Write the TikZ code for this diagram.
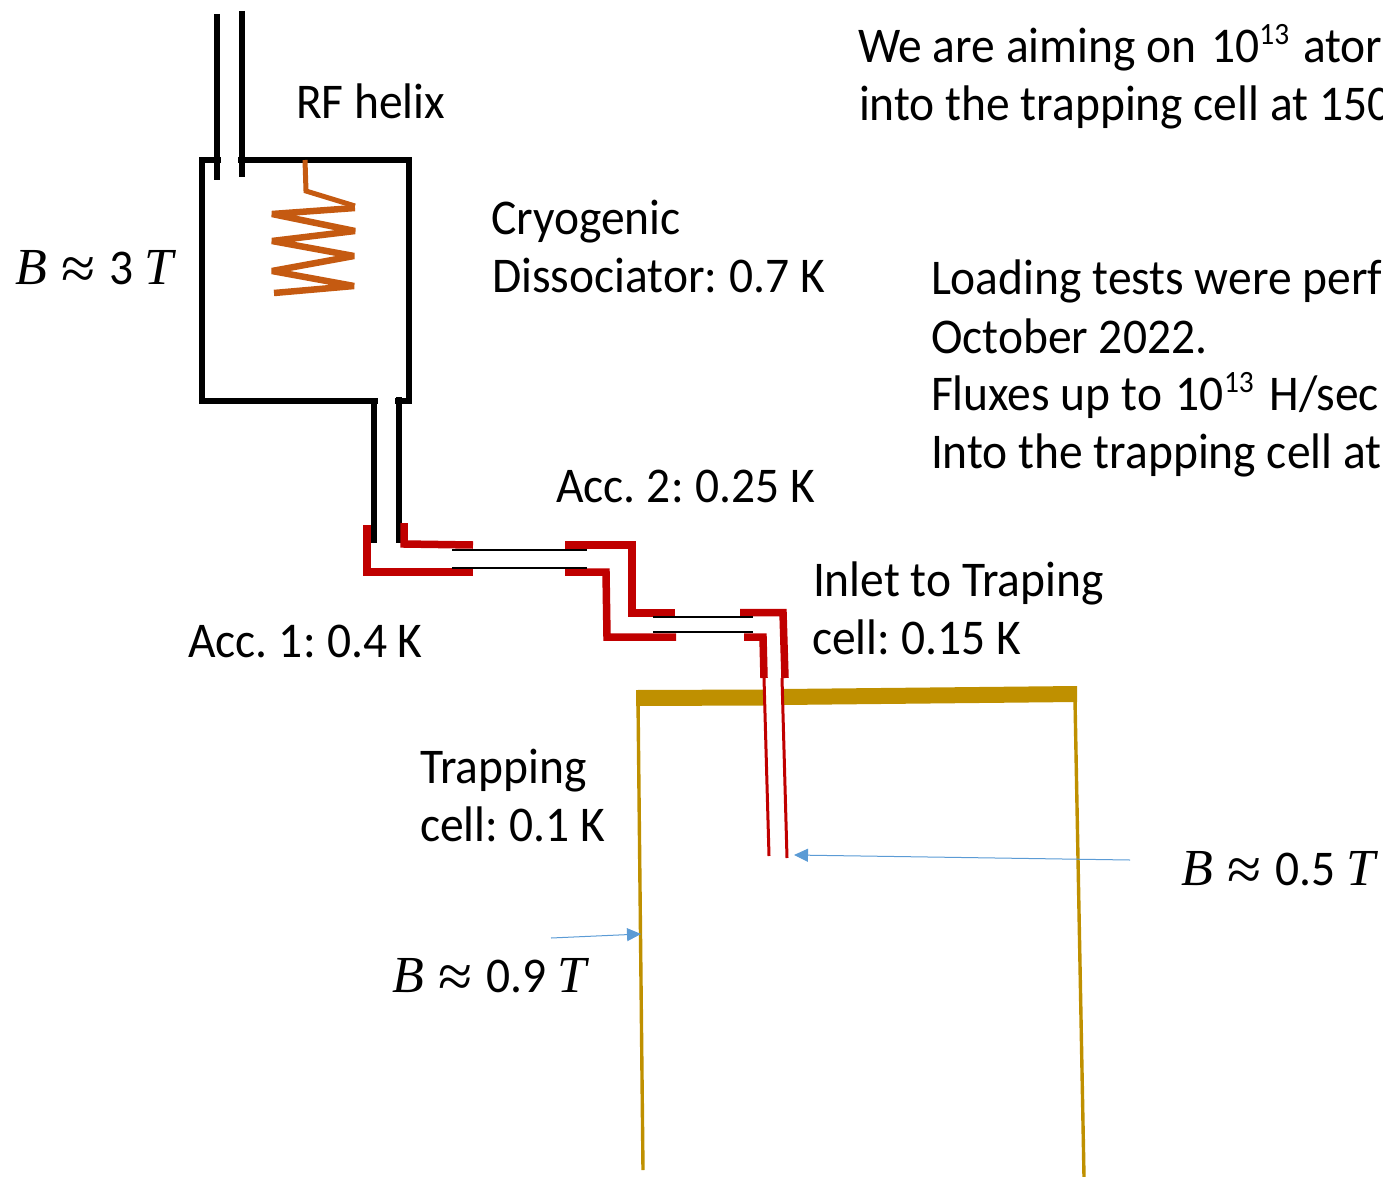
\documentclass[tikz,border=0pt]{standalone}
\usepackage{fontspec}
\setmainfont[FakeStretch=0.95]{Carlito}
\newfontfamily\mathser{Liberation Serif}
\usetikzlibrary{arrows.meta}
\definecolor{redc}{HTML}{C00000}
\definecolor{coil}{HTML}{C55A11}
\definecolor{gold}{HTML}{BF9000}
\definecolor{bluea}{HTML}{5B9BD5}
\tikzset{
 lbl/.style={anchor=base west,inner sep=0pt,outer sep=0pt,font=\fontsize{50}{50}\selectfont},
 blk/.style={draw=black,line width=6pt,line cap=butt},
 redt/.style={draw=redc,line width=7.5pt,line cap=butt,line join=miter},
 thinb/.style={draw=black,line width=1.6pt},
 redn/.style={draw=redc,line width=3pt},
 goldw/.style={draw=gold,line width=3.4pt},
 arr/.style={draw=bluea,line width=1pt,-{Triangle[length=14pt,width=13pt]}}
}
\newcommand{\mB}{{\mathser\fontsize{52}{52}\selectfont\itshape B}}
\newcommand{\mT}{{\mathser\fontsize{52}{52}\selectfont\itshape T}}
\newcommand{\mA}{\hspace{15pt}\raisebox{-5pt}{\mathser\fontsize{62}{62}\selectfont ≈}\hspace{14pt}}
\newcommand{\supt}{\raisebox{0.36em}{\fontsize{31}{31}\selectfont 13}}
\begin{document}
\begin{tikzpicture}[x=1pt,y=-1pt]
\useasboundingbox (0,0) rectangle (1383,1177);
\clip (0,0) rectangle (1383,1177);
% dissociator
\draw[blk] (221,160) -- (202,160) -- (202,401) -- (378,401);
\draw[blk] (238,160) -- (409,160) -- (409,401) -- (395,401);
\draw[blk] (217,14) -- (217,180);
\draw[blk] (241.7,11) -- (241.7,177);
\draw[blk] (374,401) -- (374,543);
\draw[blk] (398.5,397) -- (398.5,543);
% coil
\draw[draw=coil,line width=5pt] (305,160) -- (306,191) -- (355,206);
\draw[draw=coil,line width=6.5pt,line join=bevel] (355,208) -- (272,214) -- (355,231) -- (272,241) -- (354,256) -- (272,271) -- (354,286) -- (274,293);
% gold cell
\fill[gold] (636,690) -- (764,689.5) -- (764,705.5) -- (636,706) -- cycle;
\fill[gold] (782,689) -- (1077,686) -- (1077,702) -- (782,705) -- cycle;
\draw[goldw] (638,700) -- (643,1170);
\draw[goldw] (1075,700) -- (1084,1177);
% red tubes
\draw[redt] (367,525) -- (367,572) -- (473,572);
\draw[redt] (404,523) -- (404,544) -- (473,545);
\draw[redt] (565,545) -- (632,545) -- (632,613) -- (675,613);
\draw[redt] (565,572) -- (606,572) -- (607,637) -- (676,637);
\draw[redt] (740,612.5) -- (783,612.5) -- (785,678);
\draw[redt] (744,637) -- (763,637) -- (764,678);
\draw[redn] (764,678) -- (769,856);
\draw[redn] (782,678) -- (787,858);
% thin connecting lines
\draw[thinb] (452,549.7) -- (587,549.7);
\draw[thinb] (452,568) -- (587,568);
\draw[thinb] (653,617) -- (753,617);
\draw[thinb] (653,632) -- (753,632);
% arrows
\coordinate (a1s) at (1130,860); \coordinate (a1e) at (794,855);
\coordinate (a2s) at (551,938); \coordinate (a2e) at (641,934);
\draw[arr] (a1s) -- (a1e);
\draw[arr] (a2s) -- (a2e);
% labels
\node[lbl] (rf) at (296,119) {RF helix};
\node[lbl] (c1) at (491,234) {Cryogenic};
\node[lbl] (c2) at (492,292) {Dissociator:\hspace{-2pt} 0.7 K};
\node[lbl] (b3) at (15,284) {\mB\mA 3\hspace{11pt}\mT};
\node[lbl] (a2) at (556,502) {Acc.\hspace{-3pt} 2:\hspace{-3pt} 0.25 K};
\node[lbl] (a1) at (188,657) {Acc.\hspace{-3pt} 1:\hspace{-3pt} 0.4 K};
\node[lbl] (i1) at (813,596) {Inlet to Traping};
\node[lbl] (i2) at (812,654) {cell:\hspace{-3pt} 0.15 K};
\node[lbl] (t1) at (420,783) {Trapping};
\node[lbl] (t2) at (420,841) {cell:\hspace{-3pt} 0.1 K};
\node[lbl] (b5) at (1181,885) {\mB\mA 0.5\hspace{11pt}\mT};
\node[lbl] (b9) at (392,992) {\mB\mA 0.9\hspace{11pt}\mT};
\node[lbl] (w1) at (858,63) {We are aiming on\hspace{4pt} 10\supt\hspace{3pt}\ ator};
\node[lbl] (w2) at (859,121) {into the trapping cell at 150};
\node[lbl] (l1) at (931,294) {Loading tests were perf};
\node[lbl] (l2) at (931,353) {October 2022.};
\node[lbl] (l3) at (931,410) {Fluxes up to\hspace{3pt} 10\supt\hspace{5pt}\ H/sec};
\node[lbl] (l4) at (931,468) {Into the trapping cell at};
\end{tikzpicture}
\end{document}
